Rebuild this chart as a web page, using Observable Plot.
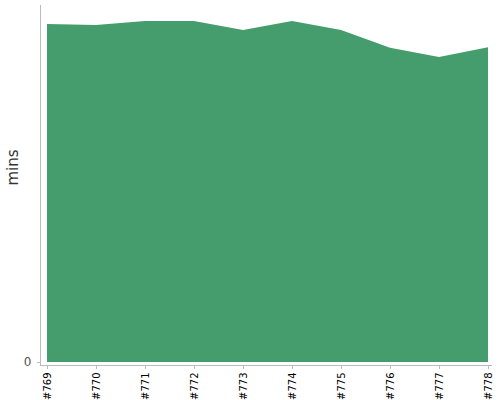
<!DOCTYPE html>
<html><head><meta charset="utf-8">
<script src="https://cdn.jsdelivr.net/npm/d3@7"></script>
<script src="https://cdn.jsdelivr.net/npm/@observablehq/plot@0.6"></script>
<style>body{margin:0;background:#fff;font-family:"DejaVu Sans",sans-serif} svg text{font-family:"DejaVu Sans",sans-serif !important}</style>
</head><body><div id="chart"></div>
<script>
const builds = ["#769","#770","#771","#772","#773","#774","#775","#776","#777","#778"];
const mins = [94.7, 94.4, 95.5, 95.5, 93.0, 95.5, 93.0, 88.0, 85.4, 88.2];
const data = builds.map((b, i) => ({build: b, mins: mins[i]}));

const chart = Plot.plot({
  width: 500,
  height: 400,
  marginLeft: 40,
  marginRight: 9,
  marginTop: 5,
  marginBottom: 35,
  style: {fontFamily: "DejaVu Sans", background: "#fff"},
  x: {type: "point", domain: builds, padding: 0, range: [43, 491]},
  y: {domain: [0, 100], insetBottom: 3},
  marks: [
    Plot.areaY(data, {x: "build", y: "mins", fill: "#459c6c", curve: "linear"}),
    Plot.frame({anchor: "left", stroke: "#bbb"}),
    Plot.frame({anchor: "bottom", stroke: "#bbb"}),
    Plot.axisX({tickRotate: -90, tickSize: 4, stroke: "#bbb", fontSize: 10, fill: "#000", tickPadding: 3, label: null}),
    Plot.axisY({ticks: [0], tickSize: 3, stroke: "#bbb", fontSize: 12, fill: "#555", label: null}),
    Plot.text(["mins"], {frameAnchor: "left", rotate: -90, dx: -27, fontSize: 15, fill: "#333"})
  ]
});
document.getElementById("chart").append(chart);
</script></body></html>
